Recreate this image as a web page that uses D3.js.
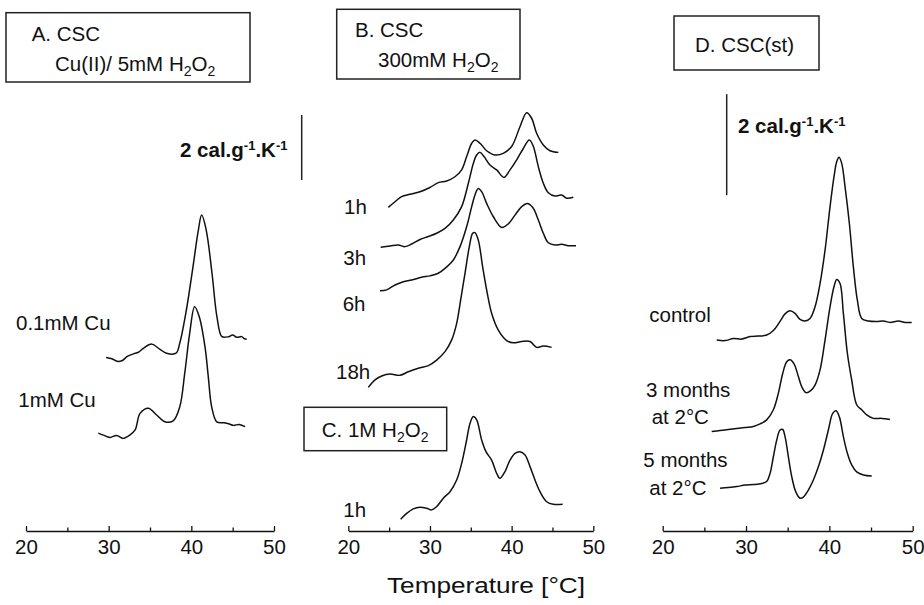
<!DOCTYPE html>
<html>
<head>
<meta charset="utf-8">
<script src="https://cdn.jsdelivr.net/npm/d3@7"></script>
<style>
  body { margin: 0; background: #fff; }
  text { font-family: "Liberation Sans", Arial, Helvetica, sans-serif; fill: #111; }
</style>
</head>
<body>
<div id="chart"></div>
<script>
// temperature ticks for every panel
const majorTicks = [20, 30, 40, 50];
const minorTicks = [25, 35, 45];

// panel A: Cu(II)/5mM H2O2   [temperature °C, cp in cal.g-1.K-1 (offset)]
const cu01 = [[29.7,5.34],[30.4,5.30],[31.0,5.22],[31.6,5.24],[32.3,5.38],[33.0,5.45],[33.6,5.50],[34.2,5.62],[35.2,5.75],[36.2,5.59],[37.0,5.47],[38.15,5.47],[38.6,5.78],[39.4,6.80],[40.2,8.13],[40.85,9.26],[41.25,9.72],[41.8,9.26],[42.5,7.93],[43.1,6.59],[43.7,5.98],[44.5,5.98],[45.0,6.03],[45.5,5.96],[46.1,5.98],[46.4,5.92],[46.7,5.90]];
const cu1 = [[28.75,3.01],[29.35,2.95],[30.15,2.88],[30.95,2.94],[31.75,2.85],[32.55,2.95],[33.2,3.11],[33.8,3.62],[34.8,3.78],[35.8,3.57],[36.8,3.36],[37.8,3.39],[38.6,3.82],[39.2,4.85],[39.8,6.08],[40.4,6.90],[40.96,6.59],[41.65,5.67],[42.05,4.75],[42.46,3.82],[43.07,3.36],[43.9,3.33],[44.5,3.30],[45.1,3.25],[45.8,3.28],[46.5,3.21]];

// panel B: 300mM H2O2
const b1h = [[24.9,9.96],[25.72,10.13],[26.53,10.29],[27.55,10.36],[28.78,10.44],[30.0,10.57],[31.02,10.72],[32.04,10.77],[33.06,10.9],[33.88,11.11],[34.49,11.52],[35.11,11.93],[35.51,12.03],[36.13,11.93],[36.94,11.7],[37.96,11.57],[38.98,11.62],[40.0,11.83],[41.02,12.44],[41.84,12.87],[42.45,12.7],[43.06,12.24],[43.88,11.88],[44.7,11.7],[45.72,11.65]];
const b3h = [[23.96,8.73],[25.11,8.77],[26.13,8.8],[26.94,8.75],[27.76,8.83],[28.78,8.97],[29.8,9.06],[30.82,9.16],[31.84,9.31],[32.86,9.57],[33.88,9.98],[34.7,10.7],[35.31,11.31],[35.72,11.57],[36.13,11.65],[36.62,11.52],[37.35,11.26],[38.17,11.11],[39.07,10.88],[39.8,11.11],[40.62,11.42],[41.43,11.77],[42.17,12.03],[42.66,11.83],[43.27,11.21],[43.88,10.7],[44.49,10.41],[45.31,10.31],[46.13,10.34],[46.74,10.24],[47.55,10.27]];
const b6h = [[23.88,7.39],[24.7,7.42],[25.72,7.57],[26.74,7.67],[27.76,7.72],[28.98,7.81],[30.0,7.85],[31.02,7.93],[31.84,8.08],[32.86,8.34],[33.68,8.75],[34.49,9.36],[35.11,9.98],[35.51,10.34],[35.92,10.54],[36.33,10.44],[36.94,10.08],[37.76,9.67],[38.78,9.34],[39.59,9.45],[40.41,9.72],[41.23,9.98],[41.92,10.08],[42.57,9.96],[43.27,9.57],[43.88,9.16],[44.49,8.87],[45.31,8.8],[46.13,8.82],[46.94,8.78],[47.88,8.78]];
const b18h = [[22.45,4.42],[23.27,4.65],[24.09,4.77],[25.11,4.83],[26.33,4.79],[27.35,4.9],[28.57,5.01],[29.8,5.09],[30.82,5.26],[31.84,5.52],[32.66,5.88],[33.27,6.39],[33.76,7.11],[34.29,7.93],[34.82,8.75],[35.23,9.16],[35.51,9.18],[35.92,8.95],[36.45,8.13],[36.94,7.42],[37.55,6.7],[38.37,6.18],[39.39,5.86],[40.21,5.79],[41.23,5.83],[42.25,5.83],[43.06,5.65],[43.88,5.69],[44.9,5.65]];

// panel C: 1M H2O2
const c1h = [[26.41,0.36],[27.15,0.54],[27.96,0.68],[28.78,0.73],[29.6,0.7],[30.21,0.65],[30.82,0.75],[31.64,1.01],[32.45,1.21],[33.27,1.57],[33.88,2.08],[34.49,2.8],[34.9,3.31],[35.31,3.52],[35.72,3.42],[36.33,2.8],[36.86,2.44],[37.55,2.18],[38.17,1.77],[38.57,1.62],[39.19,1.83],[39.8,2.18],[40.41,2.39],[41.02,2.44],[41.64,2.34],[42.25,1.98],[42.86,1.57],[43.47,1.21],[44.29,0.9],[45.1,0.82],[46.25,0.82]];

// panel D: CSC(st)
const dControl = [[26.48,3.78],[27.48,3.77],[28.48,3.81],[29.48,3.8],[30.48,3.85],[31.48,3.86],[32.48,3.88],[33.28,3.97],[34.08,4.15],[34.68,4.3],[35.28,4.36],[35.88,4.31],[36.48,4.19],[37.08,4.16],[37.68,4.21],[38.28,4.44],[38.88,4.9],[39.48,5.56],[40.08,6.42],[40.56,7.02],[40.88,7.31],[41.16,7.4],[41.48,7.28],[41.88,6.82],[42.4,6.09],[42.88,5.23],[43.36,4.57],[43.88,4.21],[44.68,4.16],[45.68,4.15],[46.48,4.16],[47.28,4.13],[48.28,4.16],[49.08,4.13],[49.88,4.13]];
const d3mo = [[25.88,1.97],[26.88,1.99],[27.88,2.01],[28.88,2.03],[29.88,2.05],[30.88,2.07],[31.68,2.12],[32.48,2.2],[33.28,2.4],[33.88,2.73],[34.4,3.12],[34.88,3.35],[35.28,3.39],[35.76,3.31],[36.28,3.06],[36.68,2.86],[37.2,2.74],[37.76,2.78],[38.28,2.89],[38.88,3.19],[39.48,3.78],[40.08,4.44],[40.56,4.84],[40.88,4.98],[41.28,4.9],[41.68,4.31],[42.16,3.52],[42.68,2.99],[43.28,2.5],[43.88,2.4],[44.48,2.3],[45.28,2.23],[46.28,2.23],[47.28,2.21]];
const d5mo = [[26.88,0.845],[27.88,0.86],[28.88,0.88],[29.88,0.91],[30.88,0.92],[31.88,0.94],[32.48,0.98],[32.88,1.14],[33.28,1.47],[33.68,1.8],[34.08,2.0],[34.4,2.01],[34.68,1.87],[35.08,1.47],[35.48,1.08],[35.96,0.78],[36.48,0.65],[36.88,0.67],[37.48,0.81],[38.08,1.01],[38.68,1.27],[39.28,1.6],[39.88,2.0],[40.4,2.33],[40.8,2.38],[41.2,2.26],[41.68,1.87],[42.16,1.54],[42.68,1.31],[43.28,1.17],[44.08,1.11],[45.08,1.09]];

const width = 924, height = 605, axisY = 531;

const svg = d3.select("#chart").append("svg")
  .attr("width", width).attr("height", height);

// x scales, one per panel
const xA = d3.scaleLinear().domain([20, 50]).range([26, 274]);
const xB = d3.scaleLinear().domain([20, 50]).range([348.3, 593.3]);
const xD = d3.scaleLinear().domain([20, 50]).range([662.7, 912.7]);
// y scales: panels A-C share one scale bar, D has its own
const yAB = d3.scaleLinear().domain([0, 16]).range([axisY, axisY - 16 * 32.5]);
const yD = d3.scaleLinear().domain([0, 10]).range([axisY, axisY - 10 * 50.5]);

function drawAxis(x) {
  const g = svg.append("g").attr("transform", "translate(0," + axisY + ")");
  g.call(d3.axisBottom(x).tickValues(majorTicks).tickSizeInner(-5).tickSizeOuter(0).tickPadding(8))
    .call(s => s.select(".domain").attr("stroke", "#111").attr("stroke-width", 1.5))
    .call(s => s.selectAll(".tick line").attr("stroke", "#111").attr("stroke-width", 1.3))
    .call(s => s.selectAll("text").attr("font-size", 20.5).attr("fill", "#111")
      .style("font-family", "'Liberation Sans', Arial, sans-serif"));
  const m = svg.append("g").attr("transform", "translate(0," + axisY + ")");
  m.call(d3.axisBottom(x).tickValues(minorTicks).tickSizeInner(-3.5).tickSizeOuter(0).tickFormat(""))
    .call(s => s.select(".domain").remove())
    .call(s => s.selectAll(".tick line").attr("stroke", "#111").attr("stroke-width", 1.3));
}
drawAxis(xA);
drawAxis(xB);
drawAxis(xD);

function drawCurve(data, x, y) {
  const line = d3.line()
    .x(d => x(d[0]))
    .y(d => y(d[1]))
    .curve(d3.curveCatmullRom.alpha(0.5));
  svg.append("path").datum(data)
    .attr("d", line)
    .attr("fill", "none")
    .attr("stroke", "#111")
    .attr("stroke-width", 1.5)
    .attr("stroke-linejoin", "round");
}
drawCurve(cu01, xA, yAB);
drawCurve(cu1, xA, yAB);
drawCurve(b1h, xB, yAB);
drawCurve(b3h, xB, yAB);
drawCurve(b6h, xB, yAB);
drawCurve(b18h, xB, yAB);
drawCurve(c1h, xB, yAB);
drawCurve(dControl, xD, yD);
drawCurve(d3mo, xD, yD);
drawCurve(d5mo, xD, yD);

// scale bars (2 cal.g-1.K-1)
svg.append("line").attr("x1", 301.7).attr("x2", 301.7)
  .attr("y1", yAB(10.8)).attr("y2", yAB(12.8))
  .attr("stroke", "#222").attr("stroke-width", 1.5);
svg.append("line").attr("x1", 726.7).attr("x2", 726.7)
  .attr("y1", yD(6.65)).attr("y2", yD(8.65))
  .attr("stroke", "#222").attr("stroke-width", 1.5);

function scaleLabel(x, y) {
  const t = svg.append("text").attr("x", x).attr("y", y)
    .attr("font-size", 20.5).attr("font-weight", "bold");
  t.append("tspan").text("2 cal.g");
  t.append("tspan").attr("dy", -7).attr("font-size", 13).text("-1");
  t.append("tspan").attr("dy", 7).text(".K");
  t.append("tspan").attr("dy", -7).attr("font-size", 13).text("-1");
}
scaleLabel(180, 157);
scaleLabel(738, 133);

// boxed panel titles
function box(x, y, w, h) {
  svg.append("rect").attr("x", x).attr("y", y).attr("width", w).attr("height", h)
    .attr("fill", "none").attr("stroke", "#222").attr("stroke-width", 1.5);
}
function h2o2(t) {
  t.append("tspan").text("H");
  t.append("tspan").attr("dy", 5).attr("font-size", 14).text("2");
  t.append("tspan").attr("dy", -5).text("O");
  t.append("tspan").attr("dy", 5).attr("font-size", 14).text("2");
}
box(6, 12.7, 244, 69.3);
svg.append("text").attr("x", 31.7).attr("y", 40.7).attr("font-size", 20.5).text("A. CSC");
h2o2(svg.append("text").attr("x", 55).attr("y", 70.7).attr("font-size", 20.5).text("Cu(II)/ 5mM "));

box(336.7, 9.3, 183.3, 69.7);
svg.append("text").attr("x", 355).attr("y", 37.3).attr("font-size", 20.5).text("B. CSC");
h2o2(svg.append("text").attr("x", 378).attr("y", 66.7).attr("font-size", 20.5).text("300mM "));

box(304, 407.3, 142.7, 43.4);
h2o2(svg.append("text").attr("x", 321.7).attr("y", 436.7).attr("font-size", 20.5).text("C. 1M "));

box(674, 16, 145, 54);
svg.append("text").attr("x", 695).attr("y", 51.7).attr("font-size", 20.5).text("D. CSC(st)");

// curve labels
const labels = [
  ["0.1mM Cu", 16, 330], ["1mM Cu", 18.3, 407.3],
  ["1h", 344, 214.3], ["3h", 343.3, 265], ["6h", 342.7, 310.7], ["18h", 336, 379.3],
  ["1h", 343.3, 516.7],
  ["control", 649.3, 321.7], ["3 months", 646, 396.7], ["at 2°C", 651.7, 424.3],
  ["5 months", 643.3, 467.3], ["at 2°C", 649.3, 495]
];
svg.selectAll(".lbl").data(labels).enter().append("text")
  .attr("class", "lbl")
  .attr("x", d => d[1]).attr("y", d => d[2])
  .attr("font-size", 20.5)
  .text(d => d[0]);

// x axis title
svg.append("text").attr("x", 387).attr("y", 593)
  .attr("font-size", 22)
  .attr("textLength", 198).attr("lengthAdjust", "spacingAndGlyphs")
  .text("Temperature [°C]");
</script>
</body>
</html>
